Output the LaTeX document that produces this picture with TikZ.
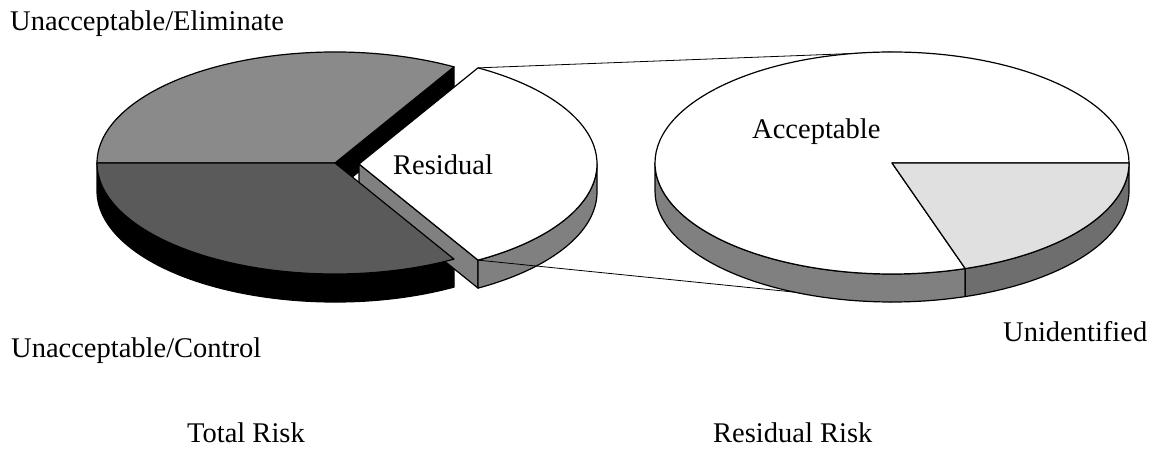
\documentclass[tikz,border=0pt]{standalone}
\usepackage{fontspec}
\setmainfont{Liberation Serif}
\usetikzlibrary{calc}

\definecolor{elimgray}{HTML}{8A8A8A}
\definecolor{ctrlgray}{HTML}{5A5A5A}
\definecolor{sidegray}{HTML}{808080}
\definecolor{unidtop}{HTML}{E0E0E0}
\definecolor{unidside}{HTML}{6E6E6E}

\begin{document}
\begin{tikzpicture}[x=1pt,y=1pt,
  piece/.style={draw=black,line width=1.2pt,line join=round,x radius=238pt,y radius=111pt},
  link/.style={draw=black,line width=0.8pt},
  lbl/.style={font=\fontsize{28.5}{32}\selectfont,inner sep=0pt,anchor=base west}]
\useasboundingbox (0,0) rectangle (1155,449);

\coordinate (lc) at (335,286);
\coordinate (rc) at (359,285);
\coordinate (pc) at (892,286);

% total risk pie, sides
\draw[piece,fill=black] ($(lc)+(180:238pt and 111pt)$) arc[start angle=180,end angle=300] -- ++(0,-28) arc[start angle=300,end angle=180] -- cycle;
\draw[piece,fill=black] (lc) -- ($(lc)+(60:238pt and 111pt)$) -- ++(0,-28) -- ($(lc)+(0,-28)$) -- cycle;

% residual slice, sides
\draw[piece,fill=sidegray] (rc) -- ($(rc)+(300:238pt and 111pt)$) -- ++(0,-28) -- ($(rc)+(0,-28)$) -- cycle;
\draw[piece,fill=sidegray] ($(rc)+(300:238pt and 111pt)$) arc[start angle=300,end angle=360] -- ++(0,-28) arc[start angle=360,end angle=300] -- cycle;

% total risk pie, tops
\draw[piece,fill=elimgray] (lc) -- ($(lc)+(60:238pt and 111pt)$) arc[start angle=60,end angle=180] -- cycle;
\draw[piece,fill=ctrlgray] (lc) -- ($(lc)+(180:238pt and 111pt)$) arc[start angle=180,end angle=300] -- cycle;

% residual slice, top
\draw[piece,fill=white] (rc) -- ($(rc)+(300:238pt and 111pt)$) arc[start angle=300,end angle=420] -- cycle;

% links to the residual risk pie
\coordinate (res1) at ($(rc)+(60:238pt and 111pt)$);
\coordinate (res2) at ($(rc)+(300:238pt and 111pt)$);
\coordinate (rr1) at ($(pc)+(90:237pt and 111pt)$);
\coordinate (rr2) at ($(pc)+(270:237pt and 111pt)+(0,-28)$);
\draw[link] (res1) -- (rr1);
\draw[link] (res2) -- (rr2);

% residual risk pie
\begin{scope}[piece/.append style={x radius=237pt}]
\draw[piece,fill=sidegray] ($(pc)+(180:237pt and 111pt)$) arc[start angle=180,end angle=288] -- ++(0,-28) arc[start angle=288,end angle=180] -- cycle;
\draw[piece,fill=unidside] ($(pc)+(288:237pt and 111pt)$) arc[start angle=288,end angle=360] -- ++(0,-28) arc[start angle=360,end angle=288] -- cycle;
\draw[piece,fill=white] (pc) -- ($(pc)+(0:237pt and 111pt)$) arc[start angle=0,end angle=288] -- cycle;
\draw[piece,fill=unidtop] (pc) -- ($(pc)+(288:237pt and 111pt)$) arc[start angle=288,end angle=360] -- cycle;
\end{scope}

% labels
\node[lbl] (elim) at (10,418) {Unacceptable/Eliminate};
\node[lbl] (ctrl) at (11,91) {Unacceptable/Control};
\node[lbl] (resid) at (393,274) {Residual};
\node[lbl] (accept) at (752,310) {Acceptable};
\node[lbl] (unid) at (1003,107) {Unidentified};
\node[lbl] (total) at (187,6) {Total Risk};
\node[lbl] (residrisk) at (713,6) {Residual Risk};
\end{tikzpicture}
\end{document}
